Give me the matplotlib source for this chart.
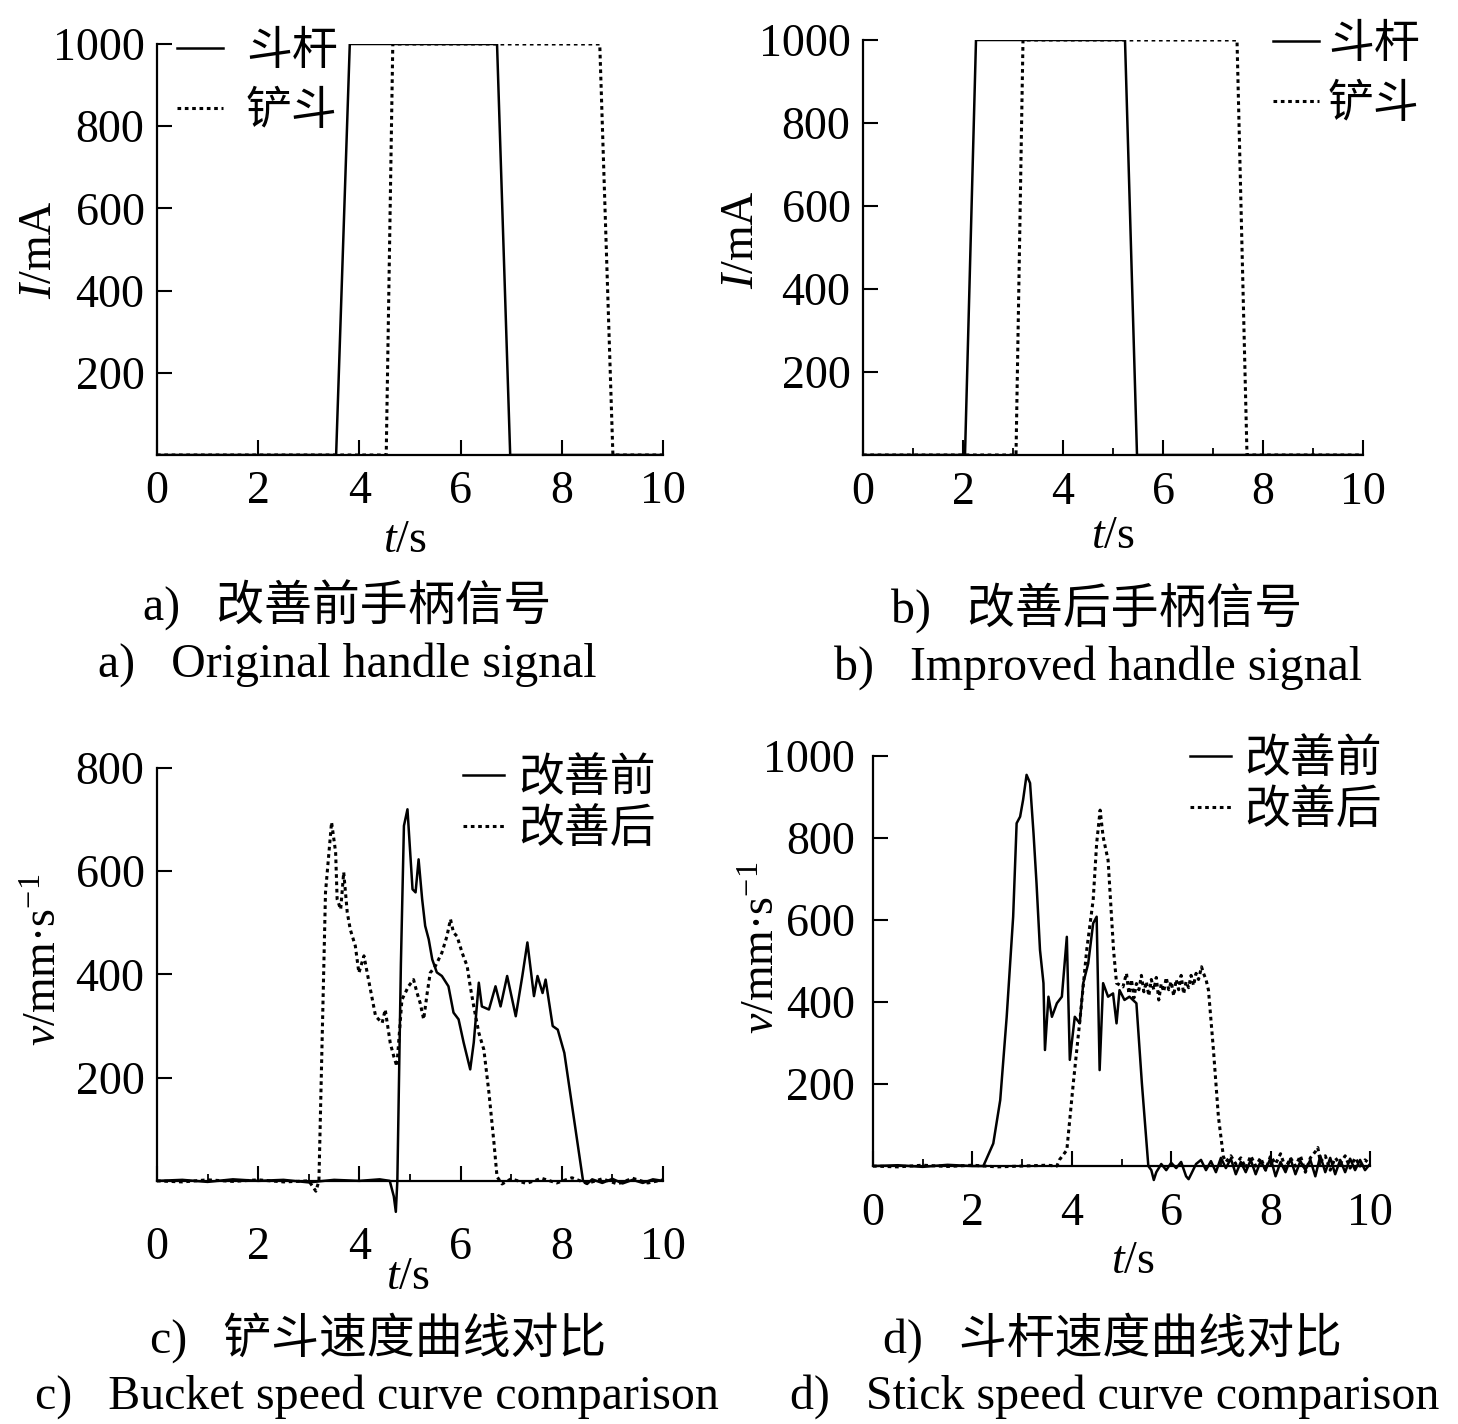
import matplotlib
matplotlib.use("Agg")
import matplotlib.pyplot as plt
from matplotlib.ticker import FixedLocator

plt.rcParams['font.family'] = ['Liberation Serif', 'Noto Sans CJK SC']
plt.rcParams['mathtext.fontset'] = 'custom'
plt.rcParams['mathtext.rm'] = 'Liberation Serif'
plt.rcParams['mathtext.it'] = 'Liberation Serif:italic'

# ---------------- data ----------------
# a) original handle signal
a_stick_t = [0, 3.54, 3.81, 6.72, 6.98, 10]
a_stick_i = [0, 0, 1000, 1000, 0, 0]
a_bucket_t = [0, 4.53, 4.66, 8.75, 9.01, 10]
a_bucket_i = [0, 0, 1000, 1000, 0, 0]

# b) improved handle signal
b_stick_t = [0, 2.04, 2.26, 5.24, 5.48, 10]
b_stick_i = [0, 0, 1000, 1000, 0, 0]
b_bucket_t = [0, 3.06, 3.20, 7.48, 7.68, 10]
b_bucket_i = [0, 0, 1000, 1000, 0, 0]

# c) bucket speed, before improvement (solid)
c_before_t = [0, 0.5, 1.0, 1.5, 2.0, 2.5, 3.0, 3.5, 4.0, 4.4, 4.6, 4.68, 4.72, 4.75,
              4.82, 4.88, 4.95, 5.05, 5.11, 5.17, 5.24, 5.30, 5.37, 5.44, 5.53, 5.63,
              5.76, 5.86, 5.96, 6.06, 6.19, 6.26, 6.36, 6.42, 6.56, 6.69, 6.79, 6.92,
              7.09, 7.22, 7.32, 7.45, 7.52, 7.62, 7.68, 7.82, 7.92, 8.05, 8.42, 8.5,
              8.6, 8.8, 9.0, 9.2, 9.4, 9.6, 9.8, 10.0]
c_before_v = [0, 2, -2, 3, 0, 2, -3, 2, 0, 3, 0, -30, -60, 0,
              420, 688, 720, 565, 559, 623, 546, 494, 468, 429, 404, 397,
              377, 326, 313, 268, 216, 268, 384, 338, 332, 377, 338, 397,
              319, 397, 462, 358, 397, 364, 390, 300, 293, 248, 0, -6,
              3, -4, 4, -5, 2, -4, 3, 0]

# c) bucket speed, after improvement (dotted)
c_after_t = [0, 0.5, 1.0, 1.5, 2.0, 2.5, 3.0, 3.14, 3.2, 3.33, 3.45, 3.53, 3.56, 3.63,
             3.69, 3.76, 3.82, 3.92, 3.99, 4.09, 4.18, 4.32, 4.45, 4.51, 4.61, 4.68,
             4.74, 4.84, 4.97, 5.07, 5.14, 5.20, 5.27, 5.34, 5.40, 5.50, 5.63, 5.73,
             5.80, 5.86, 5.93, 6.03, 6.13, 6.19, 6.26, 6.36, 6.46, 6.56, 6.66, 6.72,
             6.82, 7.0, 7.3, 7.6, 7.9, 8.2, 8.5, 8.8, 9.1, 9.4, 9.7, 10.0]
c_after_v = [0, -2, 2, -1, 2, -2, 0, -20, 0, 559, 695, 637, 546, 526,
             598, 520, 487, 455, 403, 436, 390, 319, 306, 332, 267, 241,
             222, 351, 377, 390, 364, 345, 313, 364, 403, 416, 442, 474,
             507, 481, 474, 442, 416, 377, 338, 287, 254, 171, 73, 8,
             -6, 4, -5, 5, -4, 6, -5, 4, -6, 5, -4, 2]

# d) stick speed, before improvement (solid)
d_before_t = [0, 0.5, 1.0, 1.5, 2.0, 2.22, 2.42, 2.56, 2.69, 2.82, 2.89, 2.96, 3.02,
              3.09, 3.16, 3.23, 3.29, 3.36, 3.43, 3.46, 3.53, 3.60, 3.70, 3.80, 3.90,
              3.96, 4.06, 4.16, 4.23, 4.33, 4.43, 4.50, 4.56, 4.63, 4.73, 4.83, 4.90,
              4.96, 5.06, 5.16, 5.30, 5.41, 5.54, 5.60, 5.65, 5.70, 5.80, 5.90, 6.00,
              6.10, 6.20, 6.30, 6.35, 6.40, 6.50, 6.60, 6.70, 6.80, 6.90, 7.00, 7.10,
              7.20, 7.30, 7.40, 7.50, 7.60, 7.70, 7.80, 7.90, 8.00, 8.10, 8.20, 8.30,
              8.40, 8.50, 8.60, 8.70, 8.80, 8.90, 9.00, 9.10, 9.20, 9.30, 9.40, 9.50,
              9.60, 9.70, 9.80, 9.90, 10.0]
d_before_v = [0, 2, -2, 3, 0, 0, 55, 161, 364, 608, 836, 852, 893,
              954, 934, 811, 690, 527, 446, 283, 413, 364, 397, 413, 559,
              259, 364, 348, 446, 494, 592, 608, 234, 446, 413, 421, 348,
              429, 405, 413, 397, 202, 0, -10, -34, -15, 5, -10, 8,
              -5, 10, -25, -32, -20, 5, 15, -10, 12, -15, 20, -5,
              18, -20, 10, -15, 15, -20, 12, -10, 20, -25, 10, -15,
              18, -20, 12, -10, 15, -25, 25, -15, 20, -20, 15, -15,
              18, -10, 15, -10, 5]

# d) stick speed, after improvement (dotted)
d_after_t = [0, 0.5, 1.0, 1.5, 2.0, 2.5, 3.0, 3.5, 3.70, 3.75, 3.90, 4.03, 4.17, 4.30,
             4.43, 4.50, 4.57, 4.63, 4.73, 4.84, 4.90, 5.03, 5.10, 5.15, 5.20, 5.25,
             5.30, 5.35, 5.40, 5.45, 5.50, 5.55, 5.60, 5.65, 5.70, 5.75, 5.80, 5.85,
             5.90, 5.95, 6.00, 6.05, 6.10, 6.15, 6.20, 6.25, 6.30, 6.35, 6.40, 6.45,
             6.50, 6.55, 6.61, 6.65, 6.70, 6.75, 6.85, 6.95, 7.05, 7.10, 7.20, 7.30,
             7.40, 7.50, 7.60, 7.70, 7.80, 7.90, 8.00, 8.10, 8.20, 8.30, 8.40, 8.50,
             8.60, 8.70, 8.80, 8.90, 8.95, 9.00, 9.10, 9.20, 9.30, 9.40, 9.50, 9.60,
             9.70, 9.80, 9.90, 10.0]
d_after_v = [0, -2, 2, -1, 2, -2, 0, 2, 0, 15, 39, 202, 364, 527,
             649, 787, 868, 803, 746, 527, 446, 437, 470, 420, 455, 410,
             445, 430, 465, 425, 450, 415, 455, 430, 460, 405, 445, 425,
             460, 430, 450, 415, 455, 430, 465, 420, 450, 435, 465, 440,
             470, 455, 486, 470, 455, 429, 283, 120, 23, 10, 25, 5,
             20, -5, 25, 0, 20, -10, 25, 5, 30, -5, 20, 0,
             25, -15, 20, 35, 45, 10, 25, -10, 20, 5, 25, -5,
             20, 0, 15, 5]

xticks_major = [0, 2, 4, 6, 8, 10]
xticks_minor = [1, 3, 5, 7, 9]
yticks_I = [200, 400, 600, 800, 1000]
yticks_vc = [200, 400, 600, 800]
yticks_vd = [200, 400, 600, 800, 1000]

leg_ab = ['斗杆', '铲斗']
leg_cd = ['改善前', '改善后']

# ---------------- figure ----------------
W, H = 1458, 1424
fig = plt.figure(figsize=(W / 100, H / 100), dpi=100)

DOT = (0, (1.2, 1.2))
LW = 1.8
FS = 33
CFS = 34.5


def style(ax, ylo, yhi, yticks, xpad, ypad, minor=True):
    ax.set_xlim(0, 10)
    ax.set_ylim(ylo, yhi)
    for s in ['top', 'right']:
        ax.spines[s].set_visible(False)
    for s in ['left', 'bottom']:
        ax.spines[s].set_linewidth(1.6)
    ax.spines['bottom'].set_position(('data', 0))
    ax.spines['left'].set_bounds(0, yhi)
    ax.set_xticks(xticks_major)
    ax.set_xticklabels([str(v) for v in xticks_major])
    if minor:
        ax.xaxis.set_minor_locator(FixedLocator(xticks_minor))
    ax.set_yticks(yticks)
    ax.set_yticklabels([str(v) for v in yticks])
    ax.tick_params(axis='both', which='major', direction='in', length=11, width=1.5,
                   labelsize=FS)
    ax.tick_params(axis='x', which='major', pad=xpad)
    ax.tick_params(axis='y', which='major', pad=ypad)
    ax.tick_params(axis='x', which='minor', direction='in', length=5, width=1.3)


def px_axes(left, right, top, bottom):
    return fig.add_axes([left / W, 1 - bottom / H, (right - left) / W, (bottom - top) / H])


# a
ax_a = px_axes(157, 663, 44, 455)
la1, = ax_a.plot(a_stick_t, a_stick_i, color='black', lw=LW, label=leg_ab[0])
la2, = ax_a.plot(a_bucket_t, a_bucket_i, color='black', lw=LW + 0.4, ls=DOT, label=leg_ab[1])
style(ax_a, 0, 1000, yticks_I, 11, 9, minor=False)
ax_a.legend(handles=[la1, la2], loc='upper left', bbox_to_anchor=(0.04, 1.03),
            frameon=False, fontsize=FS, handlelength=1.0, handletextpad=0.5,
            labelspacing=0.38, borderaxespad=0, borderpad=0)

# b
ax_b = px_axes(863, 1363, 40, 455)
lb1, = ax_b.plot(b_stick_t, b_stick_i, color='black', lw=LW, label=leg_ab[0])
lb2, = ax_b.plot(b_bucket_t, b_bucket_i, color='black', lw=LW + 0.4, ls=DOT, label=leg_ab[1])
style(ax_b, 0, 1000, yticks_I, 12, 9)
ax_b.legend(handles=[lb1, lb2], loc='upper left', bbox_to_anchor=(0.82, 1.037),
            frameon=False, fontsize=FS, handlelength=1.0, handletextpad=0.2,
            labelspacing=0.38, borderaxespad=0, borderpad=0)

# c
ax_c = px_axes(157, 663, 768, 1217)
lc1, = ax_c.plot(c_before_t, c_before_v, color='black', lw=LW, label=leg_cd[0])
lc2, = ax_c.plot(c_after_t, c_after_v, color='black', lw=LW + 0.4, ls=DOT, label=leg_cd[1])
style(ax_c, -70, 800, yticks_vc, 33, 9)
ax_c.legend(handles=[lc1, lc2], loc='upper left', bbox_to_anchor=(0.605, 1.023),
            frameon=False, fontsize=FS, handlelength=0.9, handletextpad=0.3,
            labelspacing=0.18, borderaxespad=0, borderpad=0)

# d
ax_d = px_axes(873, 1370, 756, 1184.5)
ld1, = ax_d.plot(d_before_t, d_before_v, color='black', lw=LW, label=leg_cd[0])
ld2, = ax_d.plot(d_after_t, d_after_v, color='black', lw=LW + 0.4, ls=DOT, label=leg_cd[1])
style(ax_d, -45, 1000, yticks_vd, 19, 13)
ax_d.legend(handles=[ld1, ld2], loc='upper left', bbox_to_anchor=(0.637, 1.04),
            frameon=False, fontsize=FS, handlelength=0.9, handletextpad=0.3,
            labelspacing=0.18, borderaxespad=0, borderpad=0)


def ftext(x, y, s, fs=FS, **kw):
    fig.text(x / W, 1 - y / H, s, ha='center', va='center', fontsize=fs, **kw)


# axis labels
ftext(40, 250, r'$\mathit{I}$/mA', rotation=90)
ftext(742, 240, r'$\mathit{I}$/mA', rotation=90)
ftext(45, 960, r'$\mathit{v}$/mm·s$^{-1}$', rotation=90)
ftext(763, 948, r'$\mathit{v}$/mm·s$^{-1}$', rotation=90)
ftext(405, 541, r'$\mathit{t}$/s')
ftext(1113, 537, r'$\mathit{t}$/s')
ftext(408, 1278, r'$\mathit{t}$/s')
ftext(1133, 1262, r'$\mathit{t}$/s')

# captions
ftext(347, 605, 'a)   改善前手柄信号', fs=CFS)
ftext(347, 665, 'a)   Original handle signal', fs=CFS)
ftext(1097, 608, 'b)   改善后手柄信号', fs=CFS)
ftext(1098, 668, 'b)   Improved handle signal', fs=CFS)
ftext(378, 1338, 'c)   铲斗速度曲线对比', fs=CFS)
ftext(377, 1397, 'c)   Bucket speed curve comparison', fs=CFS)
ftext(1112, 1338, 'd)   斗杆速度曲线对比', fs=CFS)
ftext(1115, 1397, 'd)   Stick speed curve comparison', fs=CFS)

fig.savefig('out.png', dpi=100)
